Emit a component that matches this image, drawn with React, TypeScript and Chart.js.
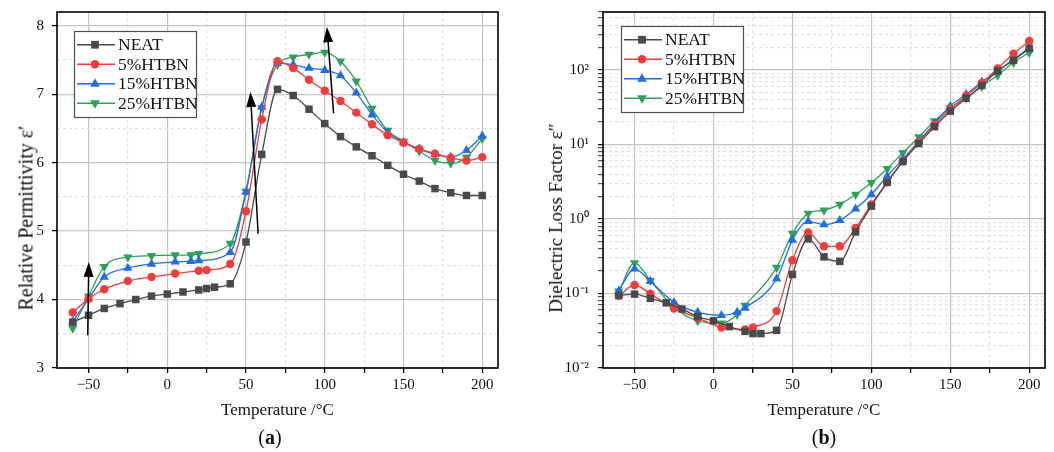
import React, { useEffect, useRef } from 'react';
import { Chart, registerables } from 'chart.js';

Chart.register(...registerables);

const SERIF = '"Liberation Serif", "Times New Roman", serif';

// ---------- data ----------
const SERIES_LABELS = ['NEAT', '5%HTBN', '15%HTBN', '25%HTBN'];
const SERIES_COLORS = ['#4a4a4a', '#f23c3c', '#1f6ee8', '#2ea05a'];
const SERIES_MARKERS = ['rect', 'circle', 'triangle', 'triangleDown'];

const T_NEAT = [-60, -50, -40, -30, -20, -10, 0, 10, 20, 25, 30, 40, 50, 60, 70, 80, 90, 100, 110, 120, 130, 140, 150, 160, 170, 180, 190, 200];
const T_5 = [-60, -50, -40, -25, -10, 5, 20, 25, 40, 50, 60, 70, 80, 90, 100, 110, 120, 130, 140, 150, 160, 170, 180, 190, 200];
const T_15 = [-60, -50, -40, -25, -10, 5, 15, 20, 40, 50, 60, 70, 80, 90, 100, 110, 120, 130, 140, 150, 160, 170, 180, 190, 200];
const T_25 = [-60, -50, -40, -25, -10, 5, 15, 20, 40, 50, 60, 70, 80, 90, 100, 110, 120, 130, 140, 150, 160, 170, 180, 190, 200];

// (a) relative permittivity ε'
const EPS_NEAT = [3.67, 3.77, 3.87, 3.94, 4.0, 4.05, 4.08, 4.11, 4.14, 4.16, 4.18, 4.23, 4.84, 6.12, 7.07, 6.98, 6.78, 6.57, 6.38, 6.23, 6.1, 5.96, 5.83, 5.73, 5.62, 5.56, 5.52, 5.52];
const EPS_5 = [3.81, 4.01, 4.15, 4.27, 4.33, 4.38, 4.42, 4.43, 4.52, 5.29, 6.63, 7.48, 7.38, 7.21, 7.05, 6.9, 6.73, 6.56, 6.4, 6.29, 6.2, 6.13, 6.07, 6.03, 6.08];
const EPS_15 = [3.68, 4.01, 4.33, 4.46, 4.52, 4.55, 4.56, 4.57, 4.69, 5.57, 6.81, 7.45, 7.43, 7.38, 7.35, 7.27, 7.02, 6.7, 6.44, 6.3, 6.2, 6.12, 6.08, 6.18, 6.39];
const EPS_25 = [3.58, 4.05, 4.48, 4.62, 4.64, 4.65, 4.65, 4.67, 4.82, 5.58, 6.8, 7.43, 7.54, 7.58, 7.61, 7.48, 7.19, 6.79, 6.47, 6.31, 6.17, 6.03, 5.99, 6.08, 6.35];

// (b) dielectric loss factor ε''
const LOSS_NEAT = [0.094, 0.098, 0.086, 0.075, 0.062, 0.049, 0.043, 0.036, 0.031, 0.029, 0.029, 0.032, 0.18, 0.54, 0.31, 0.27, 0.67, 1.49, 3.1, 5.9, 10.3, 17.3, 28, 41.7, 62, 97, 135, 195];
const LOSS_5 = [0.093, 0.13, 0.099, 0.063, 0.047, 0.035, 0.033, 0.035, 0.058, 0.28, 0.66, 0.43, 0.43, 0.76, 1.57, 3.1, 6.0, 10.8, 18.5, 30, 45, 67, 105, 165, 245];
const LOSS_15 = [0.109, 0.214, 0.146, 0.076, 0.056, 0.051, 0.056, 0.064, 0.157, 0.52, 0.93, 0.84, 0.96, 1.37, 2.13, 3.76, 6.4, 11.1, 19.2, 32.8, 47, 69, 97, 138, 199];
const LOSS_25 = [0.107, 0.258, 0.149, 0.065, 0.043, 0.04, 0.052, 0.069, 0.223, 0.64, 1.19, 1.31, 1.57, 2.13, 3.06, 4.73, 7.76, 12.6, 20.7, 31, 41.7, 60, 85, 126, 171];

// ticks
const X_TICKS = [-50, -25, 0, 25, 50, 75, 100, 125, 150, 175, 200];
const EPS_TICKS = [3, 3.5, 4, 4.5, 5, 5.5, 6, 6.5, 7, 7.5, 8];
const LOSS_DECADES = [0.01, 0.1, 1, 10, 100];
const LOSS_MULTS = [1, 2, 3, 4, 5, 6, 7, 8, 9];
const LOSS_MAX = 600;

// arrows in panel (a), data coordinates [x, y]
const ARROW_FROM = [[-50.5, 3.48], [57.7, 4.96], [105.6, 6.72]];
const ARROW_TO = [[-49.8, 4.55], [52.8, 7.03], [101.4, 7.98]];

const X_TITLE = 'Temperature /°C';
const Y_TITLE_A = 'Relative Permittivity ε′';
const Y_TITLE_B = 'Dielectric Loss Factor ε″';

// ---------- helpers ----------
const MAJOR_GRID = '#c4c4c4';
const MINOR_GRID = '#e0e0e0';

const fmtX = (v: number) => (v < 0 ? '\u2212' + Math.abs(v) : String(v));
const SUP: Record<string, string> = { '-': '⁻', '0': '⁰', '1': '¹', '2': '²', '3': '³', '4': '⁴' };
const fmtPow = (e: number) => '10' + String(e).split('').map((c) => SUP[c] || c).join('');
const isDecade = (v: number) => Math.abs(Math.log10(v) - Math.round(Math.log10(v))) < 1e-6;

function drawMarker(ctx: CanvasRenderingContext2D, style: string, x: number, y: number, r: number) {
  ctx.beginPath();
  if (style === 'rect') {
    const s = r * 0.72;
    ctx.rect(x - s, y - s, 2 * s, 2 * s);
  } else if (style === 'circle') {
    ctx.arc(x, y, r * 0.8, 0, Math.PI * 2);
  } else if (style === 'triangle') {
    ctx.moveTo(x, y - r);
    ctx.lineTo(x + r * 0.9, y + r * 0.55);
    ctx.lineTo(x - r * 0.9, y + r * 0.55);
    ctx.closePath();
  } else {
    ctx.moveTo(x, y + r);
    ctx.lineTo(x + r * 0.9, y - r * 0.55);
    ctx.lineTo(x - r * 0.9, y - r * 0.55);
    ctx.closePath();
  }
  ctx.fill();
}

function makeDatasets(temps: number[][], values: number[][]) {
  return values.map((vals, i) => ({
    label: SERIES_LABELS[i],
    data: vals.map((v, j) => ({ x: temps[i][j], y: v })),
    borderColor: SERIES_COLORS[i],
    backgroundColor: SERIES_COLORS[i],
    pointBorderColor: SERIES_COLORS[i],
    pointBackgroundColor: SERIES_COLORS[i],
    borderWidth: 1.3,
    pointBorderWidth: 0,
    pointStyle: SERIES_MARKERS[i] === 'triangleDown' ? 'triangle' : SERIES_MARKERS[i],
    pointRotation: SERIES_MARKERS[i] === 'triangleDown' ? 180 : 0,
    pointRadius: SERIES_MARKERS[i] === 'circle' ? 4.2 : SERIES_MARKERS[i] === 'rect' ? 5.3 : 5.4,
    cubicInterpolationMode: 'monotone' as const,
    tension: 0.4,
    fill: false,
  }));
}

function legendPlugin(ox: number, oy: number, w: number, h: number) {
  return {
    id: 'boxLegend',
    afterDraw(chart: any) {
      const { ctx, chartArea } = chart;
      const x0 = Math.round(chartArea.left + ox);
      const y0 = Math.round(chartArea.top + oy);
      ctx.save();
      ctx.fillStyle = '#ffffff';
      ctx.fillRect(x0, y0, w, h);
      ctx.strokeStyle = '#505050';
      ctx.lineWidth = 1.2;
      ctx.strokeRect(x0 + 0.5, y0 + 0.5, w, h);
      const rowH = (h - 8) / SERIES_LABELS.length;
      SERIES_LABELS.forEach((lab, i) => {
        const cy = y0 + 4 + rowH * (i + 0.5);
        ctx.strokeStyle = SERIES_COLORS[i];
        ctx.lineWidth = 1.3;
        ctx.beginPath();
        ctx.moveTo(x0 + 3, cy);
        ctx.lineTo(x0 + 41, cy);
        ctx.stroke();
        ctx.fillStyle = SERIES_COLORS[i];
        drawMarker(ctx, SERIES_MARKERS[i], x0 + 21, cy, 5.4);
        ctx.fillStyle = '#111';
        ctx.font = `17.5px ${SERIF}`;
        ctx.textBaseline = 'middle';
        ctx.textAlign = 'left';
        ctx.fillText(lab, x0 + 44, cy + 1);
      });
      ctx.restore();
    },
  };
}

const framePlugin = {
  id: 'frame',
  afterDraw(chart: any) {
    const { ctx, chartArea } = chart;
    ctx.save();
    ctx.strokeStyle = '#000';
    ctx.lineWidth = 1.6;
    ctx.strokeRect(chartArea.left, chartArea.top, chartArea.right - chartArea.left, chartArea.bottom - chartArea.top);
    ctx.restore();
  },
};

const arrowPlugin = {
  id: 'arrows',
  afterDatasetsDraw(chart: any) {
    const { ctx, scales } = chart;
    ctx.save();
    ctx.strokeStyle = '#000';
    ctx.fillStyle = '#000';
    ctx.lineWidth = 1.5;
    ARROW_FROM.forEach((from, i) => {
      const to = ARROW_TO[i];
      const x1 = scales.x.getPixelForValue(from[0]);
      const y1 = scales.y.getPixelForValue(from[1]);
      const x2 = scales.x.getPixelForValue(to[0]);
      const y2 = scales.y.getPixelForValue(to[1]);
      const ang = Math.atan2(y2 - y1, x2 - x1);
      const hl = 15;
      const hw = 5;
      const bx = x2 - hl * Math.cos(ang);
      const by = y2 - hl * Math.sin(ang);
      ctx.beginPath();
      ctx.moveTo(x1, y1);
      ctx.lineTo(bx, by);
      ctx.stroke();
      ctx.beginPath();
      ctx.moveTo(x2, y2);
      ctx.lineTo(bx + hw * Math.sin(ang), by - hw * Math.cos(ang));
      ctx.lineTo(bx - hw * Math.sin(ang), by + hw * Math.cos(ang));
      ctx.closePath();
      ctx.fill();
    });
    ctx.restore();
  },
};

function xScale() {
  return {
    type: 'linear' as const,
    min: -70,
    max: 210,
    afterBuildTicks: (s: any) => {
      s.ticks = X_TICKS.map((v) => ({ value: v }));
    },
    afterFit: (s: any) => {
      s.height = 53;
      s.paddingLeft = 0;
      s.paddingRight = 0;
    },
    ticks: {
      autoSkip: false,
      maxRotation: 0,
      padding: 3,
      color: '#111',
      font: { family: SERIF, size: 15 },
      callback: (v: any) => (Number(v) % 50 === 0 ? fmtX(Number(v)) : ''),
    },
    grid: {
      color: (c: any) => (c.tick && c.tick.value % 50 === 0 ? MAJOR_GRID : MINOR_GRID),
      lineWidth: 1.2,
      tickColor: '#000',
      tickLength: 5,
      tickWidth: 1.3,
    },
    border: {
      display: false,
      dash: (c: any) => (c.tick && c.tick.value % 50 !== 0 ? [3, 3] : []),
    },
    title: {
      display: true,
      text: X_TITLE,
      color: '#111',
      font: { family: SERIF, size: 17 },
      padding: { top: 0, bottom: 0 },
    },
  };
}

function baseOptions(yScale: any, padRight: number) {
  return {
    responsive: false,
    animation: false as const,
    devicePixelRatio: 1,
    layout: { padding: { top: 12, right: padRight, bottom: 31, left: 0 } },
    plugins: { legend: { display: false }, tooltip: { enabled: false } },
    scales: { x: xScale(), y: yScale },
  };
}

function PanelA() {
  const ref = useRef<HTMLCanvasElement | null>(null);
  useEffect(() => {
    if (!ref.current) return;
    const yScale = {
      type: 'linear',
      min: 3,
      max: 8.2,
      afterBuildTicks: (s: any) => {
        s.ticks = EPS_TICKS.map((v) => ({ value: v }));
      },
      afterFit: (s: any) => {
        s.width = 57;
        s.paddingTop = 0;
        s.paddingBottom = 0;
      },
      ticks: {
        autoSkip: false,
        padding: 8,
        color: '#111',
        font: { family: SERIF, size: 15 },
        callback: (v: any) => (Number.isInteger(Number(v)) ? String(v) : ''),
      },
      grid: {
        color: (c: any) => (c.tick && Number.isInteger(c.tick.value) ? MAJOR_GRID : MINOR_GRID),
        lineWidth: 1.2,
        tickColor: (c: any) => (c.tick && Number.isInteger(c.tick.value) ? '#000' : 'rgba(0,0,0,0)'),
        tickLength: 5,
        tickWidth: 1.3,
      },
      border: {
        display: false,
        dash: (c: any) => (c.tick && !Number.isInteger(c.tick.value) ? [3, 3] : []),
      },
      title: { display: false },
    };
    const chart = new Chart(ref.current, {
      type: 'line',
      data: { datasets: makeDatasets([T_NEAT, T_5, T_15, T_25], [EPS_NEAT, EPS_5, EPS_15, EPS_25]) as any },
      options: baseOptions(yScale, 29) as any,
      plugins: [framePlugin, arrowPlugin, legendPlugin(17, 19, 122, 86)],
    });
    return () => chart.destroy();
  }, []);
  return <canvas ref={ref} width={527} height={452} style={{ position: 'absolute', left: 0, top: 0 }} />;
}

function PanelB() {
  const ref = useRef<HTMLCanvasElement | null>(null);
  useEffect(() => {
    if (!ref.current) return;
    const ticks: number[] = [];
    LOSS_DECADES.forEach((d) => LOSS_MULTS.forEach((m) => {
      const v = +(d * m).toPrecision(3);
      if (v <= LOSS_MAX) ticks.push(v);
    }));
    const yScale = {
      type: 'logarithmic',
      min: 0.01,
      max: LOSS_MAX,
      afterBuildTicks: (s: any) => {
        s.ticks = ticks.map((v) => ({ value: v, major: isDecade(v) }));
      },
      afterFit: (s: any) => {
        s.width = 76;
        s.paddingTop = 0;
        s.paddingBottom = 0;
      },
      ticks: {
        autoSkip: false,
        padding: 9,
        color: '#111',
        font: { family: SERIF, size: 15 },
        callback: (v: any) => (isDecade(Number(v)) ? fmtPow(Math.round(Math.log10(Number(v)))) : ''),
      },
      grid: {
        color: (c: any) => (c.tick && isDecade(c.tick.value) ? MAJOR_GRID : MINOR_GRID),
        lineWidth: 1.2,
        tickColor: (c: any) => (c.tick && isDecade(c.tick.value) ? '#000' : '#555'),
        tickLength: 5,
        tickWidth: 1.2,
      },
      border: {
        display: false,
        dash: (c: any) => (c.tick && !isDecade(c.tick.value) ? [3, 3] : []),
      },
      title: { display: false },
    };
    const chart = new Chart(ref.current, {
      type: 'line',
      data: { datasets: makeDatasets([T_NEAT, T_5, T_15, T_25], [LOSS_NEAT, LOSS_5, LOSS_15, LOSS_25]) as any },
      options: baseOptions(yScale, 9) as any,
      plugins: [framePlugin, legendPlugin(18, 14, 122, 86)],
    });
    return () => chart.destroy();
  }, []);
  return <canvas ref={ref} width={527} height={452} style={{ position: 'absolute', left: 527, top: 0 }} />;
}

const yTitleStyle = (cx: number, cy: number, size: number): React.CSSProperties => ({
  position: 'absolute',
  left: cx,
  top: cy,
  transform: 'translate(-50%, -50%) rotate(-90deg)',
  whiteSpace: 'nowrap',
  fontFamily: SERIF,
  fontSize: size,
  color: '#111',
});

const capStyle = (cx: number): React.CSSProperties => ({
  position: 'absolute',
  left: cx,
  top: 437,
  transform: 'translate(-50%, -50%)',
  fontFamily: SERIF,
  fontSize: 20,
  color: '#111',
  whiteSpace: 'nowrap',
});

export default function App() {
  return (
    <div style={{ position: 'absolute', left: 0, top: 0, width: 1054, height: 452, background: '#fff', overflow: 'hidden' }}>
      <PanelA />
      <PanelB />
      <div style={yTitleStyle(26, 218, 20)}>{Y_TITLE_A}</div>
      <div style={yTitleStyle(556, 218, 19)}>{Y_TITLE_B}</div>
      <div style={capStyle(270)}>(<b>a</b>)</div>
      <div style={capStyle(824)}>(<b>b</b>)</div>
    </div>
  );
}
